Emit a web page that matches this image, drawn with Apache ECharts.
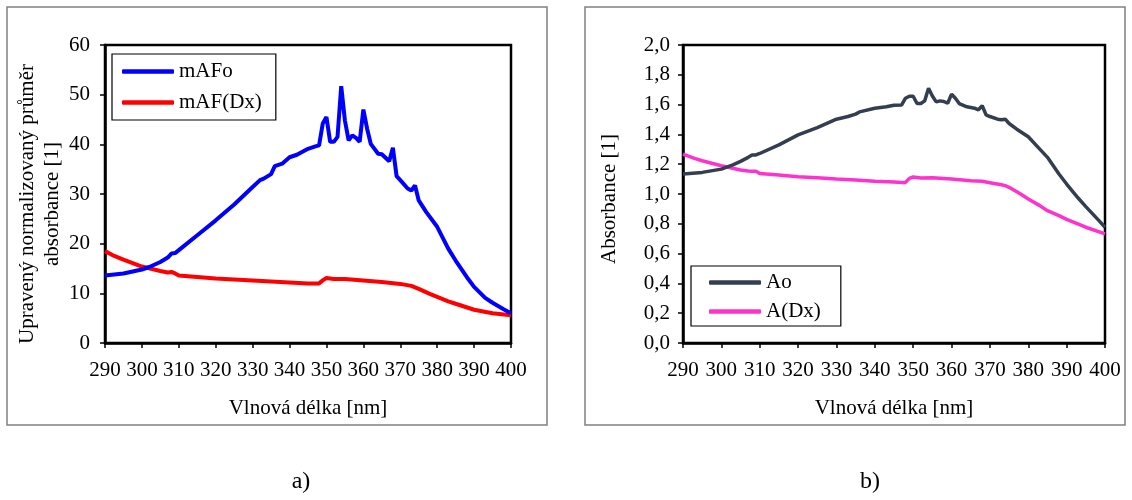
<!DOCTYPE html>
<html>
<head>
<meta charset="utf-8">
<script src="https://cdn.jsdelivr.net/npm/echarts@6/dist/echarts.min.js"></script>
<style>
html,body{margin:0;padding:0;background:#fff;}
#chart{width:1132px;height:500px;}
</style>
</head>
<body>
<div id="chart"></div>
<script>
// ---- Data ----
var xTicks = [290, 300, 310, 320, 330, 340, 350, 360, 370, 380, 390, 400];

var wlBlue = [290,295,300,302,305,307,308,309,310,315,320,325,330,332,333,335,336,338,340,342,345,347,348,349,350,351,352,353,354,355,356,357,358,359,360,361,362,364,365,367,368,369,370,372,373,374,375,377,380,383,385,388,390,393,395,398,400];
var mAFo   = [13.6,14.0,14.8,15.3,16.3,17.2,18.0,18.1,18.7,21.7,24.7,27.9,31.4,32.8,33.1,34.0,35.6,36.1,37.4,37.9,39.1,39.6,39.8,44.2,45.5,40.5,40.5,41.5,51.7,44.8,40.8,41.8,41.3,40.5,47.0,43.2,40.1,38.1,38.0,36.6,39.3,33.6,32.8,31.1,30.7,31.7,28.7,26.4,23.4,19.0,16.6,13.3,11.3,9.1,8.1,6.8,6.0];

var wlRed  = [290,292,295,300,305,307,308,309,310,315,320,325,330,335,340,345,348,349,350,352,355,360,365,370,373,375,378,380,383,385,390,395,400];
var mAFDx  = [18.5,17.7,16.8,15.4,14.5,14.2,14.3,14.0,13.6,13.3,13.0,12.8,12.6,12.4,12.2,12.0,12.0,12.6,13.1,12.9,12.9,12.6,12.3,11.9,11.5,10.9,9.9,9.3,8.4,7.9,6.7,6.0,5.6];

var wlAo   = [290,295,300,303,305,307,308,309,310,315,320,325,330,333,335,336,340,343,345,347,348,349,350,351,352,353,354,355,356,357,358,359,360,361,362,364,366,367,368,369,370,372,373,374,375,377,380,383,385,388,390,393,395,398,400];
var Ao     = [1.134,1.145,1.167,1.196,1.219,1.246,1.261,1.262,1.272,1.330,1.397,1.446,1.502,1.520,1.536,1.551,1.576,1.585,1.596,1.598,1.643,1.656,1.656,1.607,1.607,1.625,1.710,1.658,1.618,1.625,1.621,1.609,1.670,1.643,1.607,1.585,1.576,1.565,1.592,1.531,1.520,1.502,1.498,1.502,1.473,1.435,1.384,1.301,1.246,1.134,1.067,0.973,0.915,0.833,0.777];

var wlADx  = [290,293,295,300,305,307,308,309,310,315,320,325,330,335,340,345,347,348,349,350,352,355,360,365,368,370,373,374,375,378,380,383,385,388,390,395,400];
var ADx    = [1.268,1.239,1.223,1.190,1.161,1.154,1.152,1.153,1.138,1.127,1.116,1.109,1.100,1.094,1.085,1.080,1.078,1.078,1.105,1.114,1.107,1.109,1.100,1.089,1.085,1.076,1.062,1.056,1.045,1.000,0.967,0.922,0.888,0.855,0.830,0.777,0.732];

var leftYTicks = [0, 10, 20, 30, 40, 50, 60];
var rightYTicks = [0.0, 0.2, 0.4, 0.6, 0.8, 1.0, 1.2, 1.4, 1.6, 1.8, 2.0];

function pairs(xs, ys) { return xs.map(function (x, i) { return [x, ys[i]]; }); }

var FONT = '"Liberation Serif", "Times New Roman", serif';
var FS = 21;
var txt = { fontFamily: FONT, fontSize: FS, color: '#000' };

function xAxisOpt(gi) {
  return {
    type: 'value', gridIndex: gi, min: xTicks[0], max: xTicks[xTicks.length - 1], interval: 10,
    name: 'Vlnová délka [nm]', nameLocation: 'middle', nameGap: 55,
    nameTextStyle: { fontFamily: FONT, fontSize: FS, color: '#000' },
    axisLine: { show: true, onZero: false, lineStyle: { color: '#000', width: 2.5 } },
    axisTick: { show: true, inside: false, length: 5, lineStyle: { color: '#000', width: 1.5 } },
    axisLabel: Object.assign({ margin: 17, showMinLabel: true, showMaxLabel: true, hideOverlap: false }, txt),
    splitLine: { show: false }
  };
}

function legendOpt(names, left, top, padding, gap) {
  return {
    data: names.map(function (n) { return { name: n, icon: 'roundRect' }; }),
    orient: 'vertical', left: left, top: top,
    itemWidth: 52, itemHeight: 4.5, itemGap: gap, padding: padding,
    borderColor: '#000', borderWidth: 1.2, backgroundColor: '#fff',
    textStyle: { fontFamily: FONT, fontSize: FS, color: '#000' }
  };
}

var option = {
  animation: false,
  backgroundColor: '#fff',
  grid: [
    { left: 105, top: 45, width: 406, height: 298, show: true, borderColor: '#000', borderWidth: 2.5, backgroundColor: 'transparent' },
    { left: 683, top: 45, width: 422, height: 298, show: true, borderColor: '#000', borderWidth: 2.5, backgroundColor: 'transparent' }
  ],
  xAxis: [xAxisOpt(0), xAxisOpt(1)],
  yAxis: [
    {
      type: 'value', gridIndex: 0, min: leftYTicks[0], max: leftYTicks[leftYTicks.length - 1], interval: 10,
      name: 'Upravený normalizovaný průměr\nabsorbance [1]', nameLocation: 'middle', nameRotate: 90, nameGap: 37,
      nameTextStyle: { fontFamily: FONT, fontSize: FS, color: '#000', lineHeight: 25, padding: [0, 20, 0, 0] },
      axisLine: { show: true, lineStyle: { color: '#000', width: 2.5 } },
      axisTick: { show: true, length: 5, lineStyle: { color: '#000', width: 1.5 } },
      axisLabel: Object.assign({ margin: 15 }, txt),
      splitLine: { show: false }
    },
    {
      type: 'value', gridIndex: 1, min: rightYTicks[0], max: rightYTicks[rightYTicks.length - 1], interval: 0.2,
      name: 'Absorbance [1]', nameLocation: 'middle', nameRotate: 90, nameGap: 63,
      nameTextStyle: { fontFamily: FONT, fontSize: FS, color: '#000', padding: [0, 10, 0, 0] },
      axisLine: { show: true, lineStyle: { color: '#000', width: 2.5 } },
      axisTick: { show: true, length: 5, lineStyle: { color: '#000', width: 1.5 } },
      axisLabel: Object.assign({ margin: 13, formatter: function (v) { return v.toFixed(1).replace('.', ','); } }, txt),
      splitLine: { show: false }
    }
  ],
  legend: [
    legendOpt(['mAFo', 'mAF(Dx)'], 112, 54, [7, 14, 7, 10], 10),
    legendOpt(['Ao', 'A(Dx)'], 691, 266, [6, 20, 4, 18], 8)
  ],
  graphic: [
    { type: 'rect', shape: { x: 7, y: 7, width: 540, height: 418 }, style: { fill: 'none', stroke: '#808080', lineWidth: 1.5 }, z: -10 },
    { type: 'rect', shape: { x: 585, y: 7, width: 540, height: 418 }, style: { fill: 'none', stroke: '#808080', lineWidth: 1.5 }, z: -10 },
    { type: 'text', x: 301, y: 482, style: { text: 'a)', fontFamily: FONT, fontSize: 24, fill: '#000', align: 'center', verticalAlign: 'middle' } },
    { type: 'text', x: 870, y: 482, style: { text: 'b)', fontFamily: FONT, fontSize: 24, fill: '#000', align: 'center', verticalAlign: 'middle' } }
  ],
  series: [
    { name: 'mAFo', type: 'line', xAxisIndex: 0, yAxisIndex: 0, data: pairs(wlBlue, mAFo), symbol: 'none', color: '#0000ff', lineStyle: { width: 4, color: '#0000ff' }, z: 3 },
    { name: 'mAF(Dx)', type: 'line', xAxisIndex: 0, yAxisIndex: 0, data: pairs(wlRed, mAFDx), symbol: 'none', color: '#ff0000', lineStyle: { width: 4, color: '#ff0000' }, z: 2 },
    { name: 'Ao', type: 'line', xAxisIndex: 1, yAxisIndex: 1, data: pairs(wlAo, Ao), symbol: 'none', color: '#333f50', lineStyle: { width: 3.5, color: '#333f50' }, z: 3 },
    { name: 'A(Dx)', type: 'line', xAxisIndex: 1, yAxisIndex: 1, data: pairs(wlADx, ADx), symbol: 'none', color: '#ff33cc', lineStyle: { width: 3.5, color: '#ff33cc' }, z: 2 }
  ]
};

var chart = echarts.init(document.getElementById('chart'), null, { renderer: 'canvas' });
chart.setOption(option);
</script>
</body>
</html>
